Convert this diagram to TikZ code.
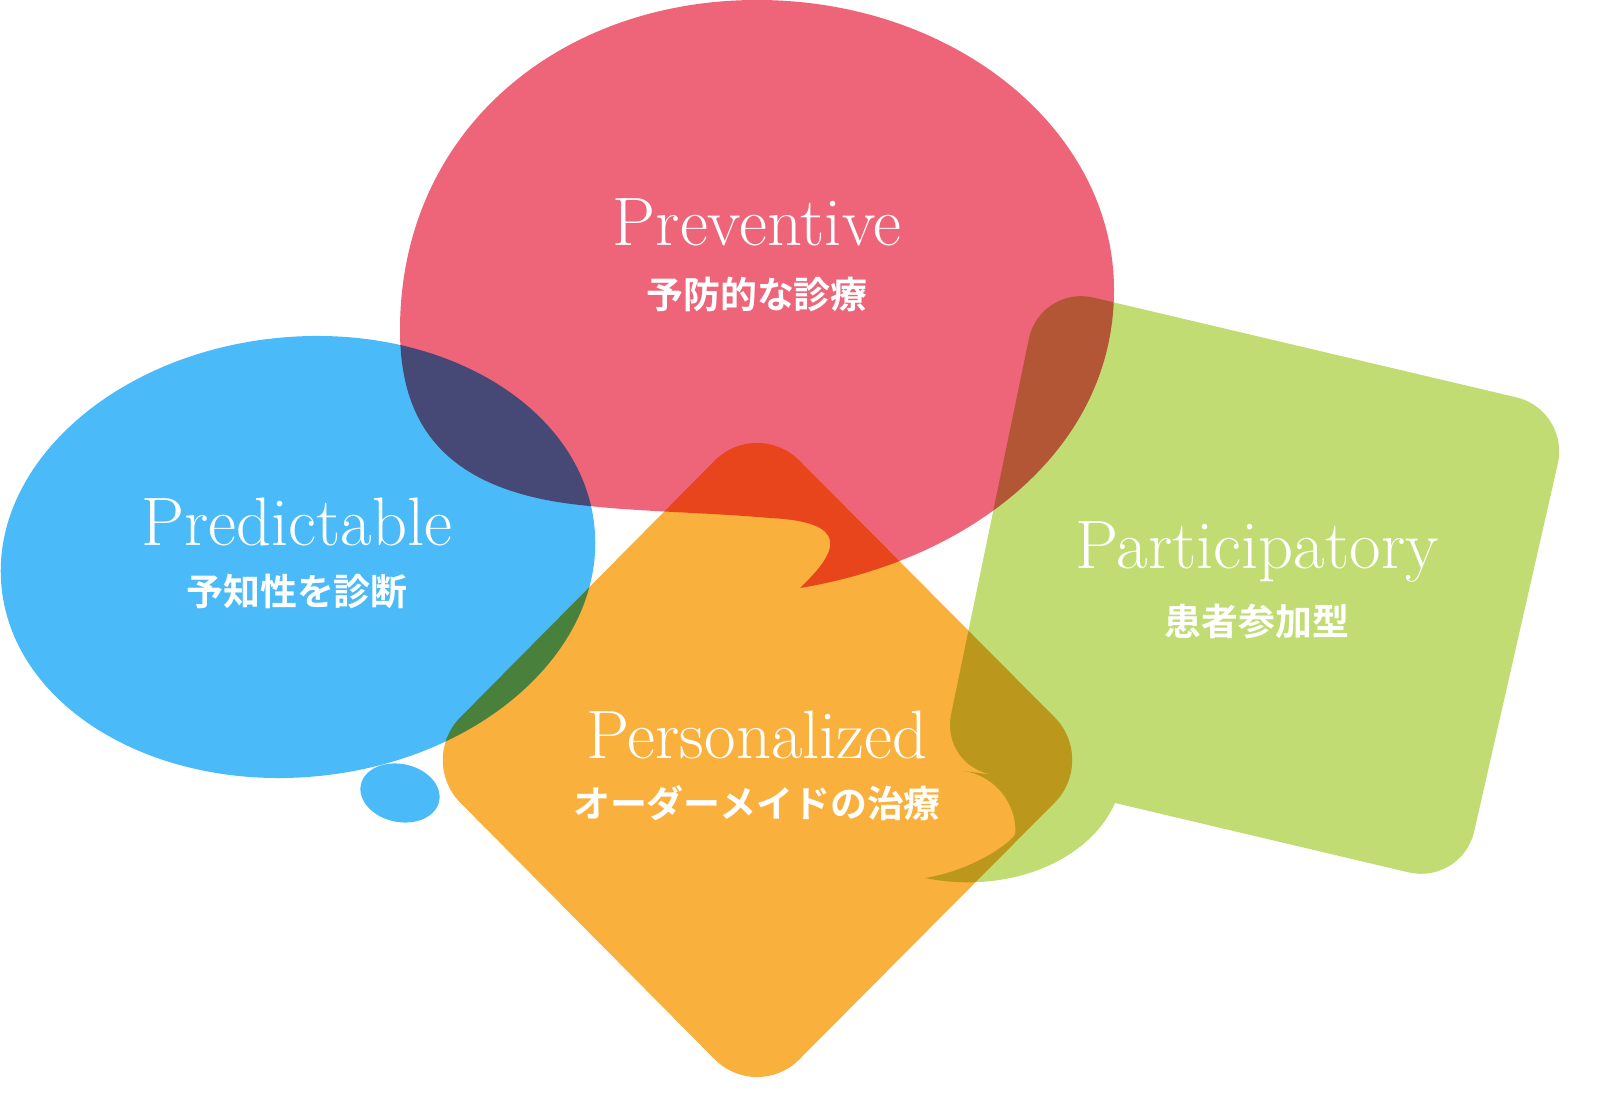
\documentclass[tikz,border=0pt]{standalone}
\usepackage{fontspec}
\newfontfamily\jpfont{Noto Sans CJK JP}[BoldFont={* Bold}]
\begin{document}
\begin{tikzpicture}[x=0.01cm,y=-0.01cm,
    blob/.style={blend mode=multiply},
    entitle/.style={text=white, font=\fontsize{19.5}{22}\selectfont},
    jptitle/.style={text=white, font=\jpfont\bfseries\fontsize{10.5}{13}\selectfont},
]
\definecolor{bluefill}{HTML}{4BBAF9}
\definecolor{pinkfill}{HTML}{EE6479}
\definecolor{orangefill}{HTML}{F9B03D}
\definecolor{greenfill}{HTML}{C0DC73}

% Predictable bubble
\fill[bluefill, blob, rotate around={6:(298,557)}] (298,557) ellipse [x radius=298, y radius=220];
\fill[bluefill, blob, rotate around={-12:(400,793)}] (400,793) ellipse [x radius=40, y radius=29];

% Preventive bubble
\fill[pinkfill, blob] (400,330) .. controls (400,130) and (560,0) .. (757,0)
    .. controls (955,0) and (1114,130) .. (1114,290)
    .. controls (1114,450) and (970,560) .. (800,588)
    .. controls (840,550) and (850,522) .. (770,518)
    .. controls (700,512) and (640,512) .. (580,505)
    .. controls (440,490) and (400,420) .. (400,330) -- cycle;

% Personalized bubble
\fill[orangefill, blob, rounded corners=0.6cm] (757,418) -- (1097,760) -- (757,1102) -- (418,760) -- cycle;

% Participatory bubble
\fill[greenfill, blob] [rounded corners=0.55cm] (1115,803) -- (1462,885) -- (1570,410) -- (1040,285) -- (940,768) -- (1018,778) [sharp corners]
    .. controls (1015,840) and (975,870) .. (925,878)
    .. controls (1010,895) and (1090,860) .. (1115,803) -- cycle;

% Labels
\node[entitle] (preventive) at (757,222) {Preventive};
\node[jptitle] (preventivejp) at (757,295) {予防的な診療};
\node[entitle] (predictable) at (297,522) {Predictable};
\node[jptitle] (predictablejp) at (297,592) {予知性を診断};
\node[entitle] (participatory) at (1257,552) {Participatory};
\node[jptitle] (participatoryjp) at (1257,622) {患者参加型};
\node[entitle] (personalized) at (757,735) {Personalized};
\node[jptitle] (personalizedjp) at (757,803) {オーダーメイドの治療};

\pgfresetboundingbox
\useasboundingbox (0,0) rectangle (1600,1104);
\end{tikzpicture}
\end{document}
